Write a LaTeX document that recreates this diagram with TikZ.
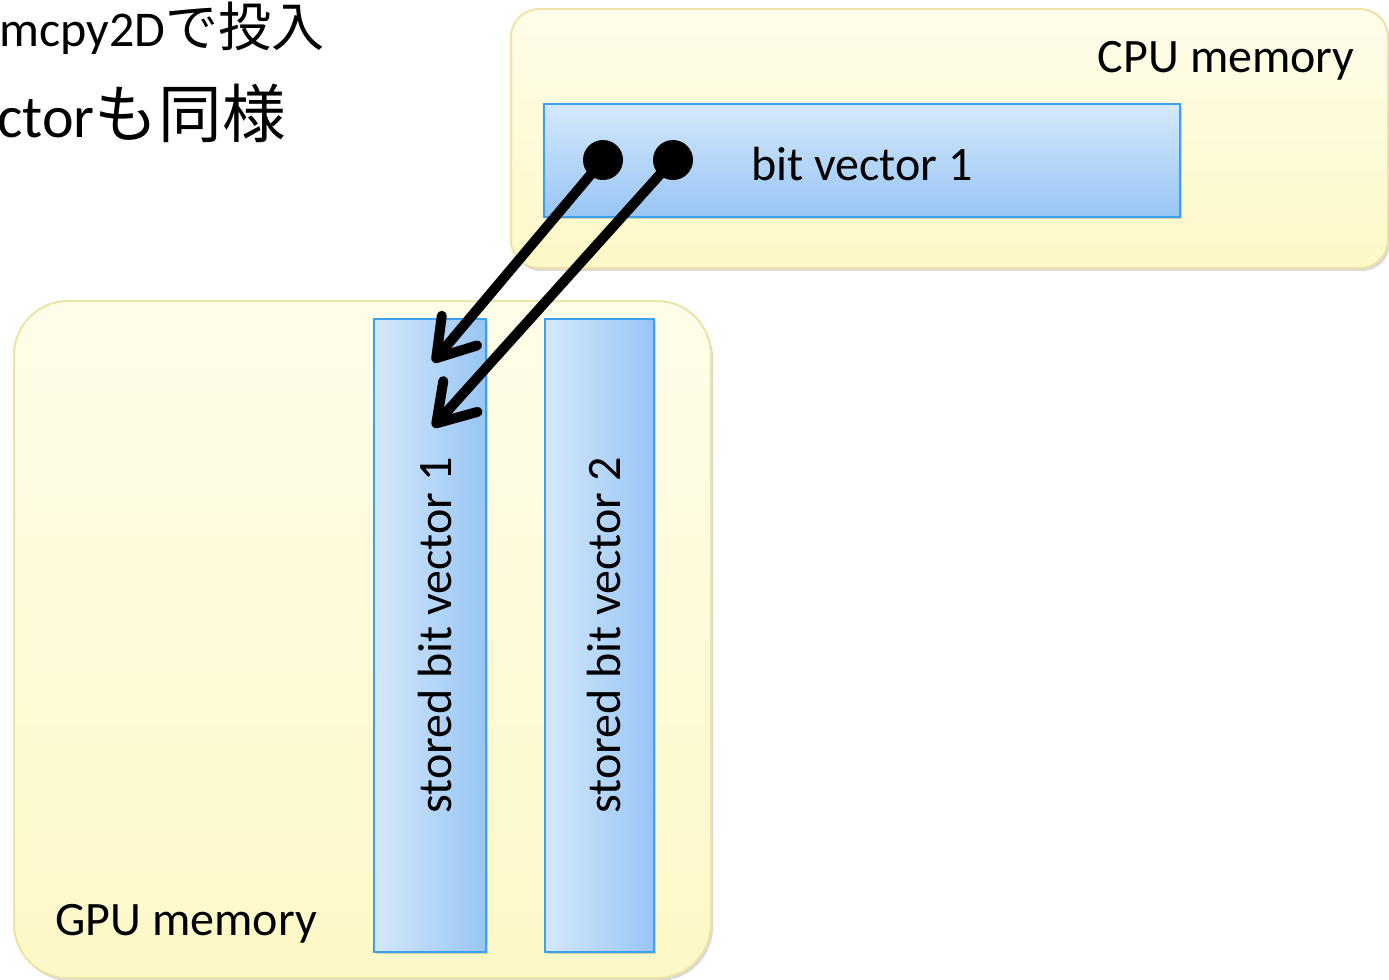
\documentclass[tikz,border=0pt]{standalone}
\usepackage{fontspec}
\setmainfont{Carlito}
\newfontfamily\cjk{Noto Sans CJK JP}[Scale=1.06]
\usetikzlibrary{arrows.meta,shadows}
\definecolor{ytop}{HTML}{FEFDEA}
\definecolor{ybot}{HTML}{FDF8C6}
\definecolor{yedge}{HTML}{EEE2A6}
\definecolor{blight}{HTML}{D4E8FB}
\definecolor{bdark}{HTML}{98C5F4}
\definecolor{bedge}{HTML}{3D9FEF}
\tikzset{
  membox/.style={draw=yedge, line width=1pt, top color=ytop, bottom color=ybot,
    drop shadow={shadow xshift=1pt, shadow yshift=-1.5pt, opacity=0.25, fill=black!60}},
  vecbox/.style={draw=bedge, line width=0.8pt, inner sep=0pt,
    drop shadow={shadow xshift=0.8pt, shadow yshift=-1pt, opacity=0.25, fill=black!60}},
  lbl/.style={inner sep=0pt, font=\fontsize{24}{28}\selectfont},
  dot/.style={circle, fill=black, minimum size=20pt, inner sep=0pt},
  copyarrow/.style={line width=5pt, line cap=round,
    -{Straight Barb[length=18pt, width=23pt, line cap=round, line join=round]}}
}
\begin{document}
\begin{tikzpicture}[x=0.5pt, y=-0.5pt]
\useasboundingbox (0,0) rectangle (1389,980);
\clip (0,0) rectangle (1389,980);
% heading text (cut off at left)
\node[inner sep=0pt, anchor=base west, font=\fontsize{25}{30}\selectfont] (h1) at (-1,46) {mcpy2D{\cjk で投入}};
\node[inner sep=0pt, anchor=base west, font=\fontsize{30}{36}\selectfont] (h2) at (-3,137) {ctor{\cjk も同様}};
% CPU memory
\node[membox, rounded corners=14pt, minimum width=438.5pt, minimum height=129.5pt] (cpu) at (949.5,138.5) {};
\node[lbl, anchor=base east] (cpul) at (1355,72) {CPU memory};
\node[vecbox, top color=blight, bottom color=bdark, minimum width=318pt, minimum height=56.5pt] (bv) at (862,160.5) {};
\node[lbl, anchor=base] (bvl) at (862,180) {bit vector 1};
% GPU memory
\node[membox, rounded corners=27pt, minimum width=348.5pt, minimum height=338.5pt] (gpu) at (362.5,639.5) {};
\node[lbl, anchor=base west] (gpul) at (55,935) {GPU memory};
\node[vecbox, left color=blight, right color=bdark, minimum width=56pt, minimum height=316.5pt] (s1) at (430,635.5) {};
\node[vecbox, left color=blight, right color=bdark, minimum width=54.5pt, minimum height=316.5pt] (s2) at (599.5,635.5) {};
\node[lbl, rotate=90, anchor=base] (s1l) at (451,635.5) {stored bit vector 1};
\node[lbl, rotate=90, anchor=base] (s2l) at (620,635.5) {stored bit vector 2};
% dots and arrows
\node[dot] (d1) at (603,160) {};
\node[dot] (d2) at (673,160) {};
\coordinate (t1) at (433,362);
\coordinate (t2) at (433,427);
\draw[copyarrow] (d1.center) -- (t1);
\draw[copyarrow] (d2.center) -- (t2);
\end{tikzpicture}
\end{document}
